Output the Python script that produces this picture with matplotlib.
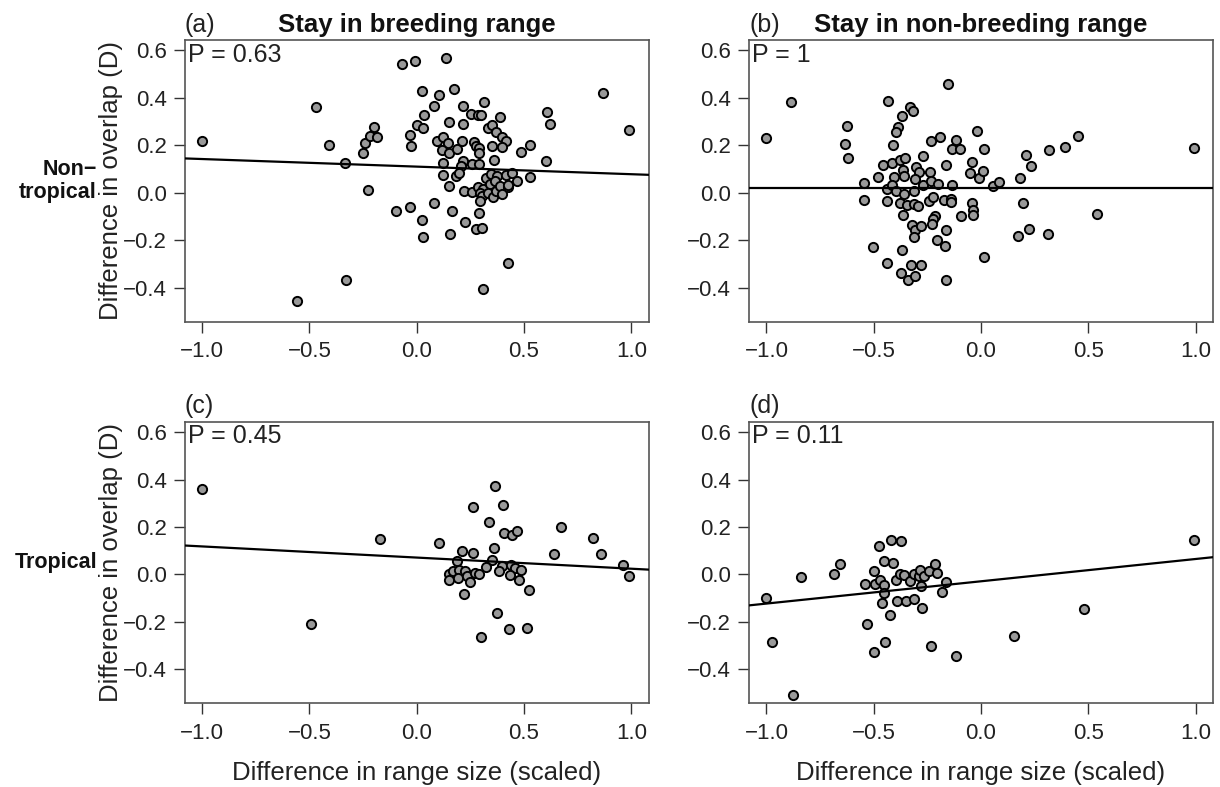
import numpy as np
import matplotlib.pyplot as plt

plt.rcParams['font.family'] = ['Liberation Sans', 'DejaVu Sans']

# panel (a): non-tropical, stay in breeding range
a_x = [-1.0, -0.471, -0.409, -0.333, -0.331, -0.558, -0.227, -0.250, -0.240, -0.216,
       -0.199, -0.185, -0.070, -0.006, 0.138, 0.026, 0.103, 0.173, 0.036, 0.079,
       0.002, 0.031, -0.030, -0.026, 0.151, 0.216, 0.252, 0.286, 0.300, 0.313,
       0.216, 0.390, 0.334, 0.351, 0.369, 0.398, 0.418, 0.350, 0.397, 0.096,
       0.123, 0.146, 0.117, 0.148, 0.188, 0.210, 0.269, 0.278, 0.291, 0.291,
       0.484, 0.530, 0.605, 0.621, 0.602, 0.870, 0.991, 0.123, 0.216, 0.205,
       0.257, 0.292, 0.361, 0.120, 0.182, 0.198, 0.148, 0.221, 0.257, 0.285,
       0.310, 0.294, 0.302, 0.294, 0.325, 0.348, 0.372, 0.341, 0.366, 0.334,
       0.356, 0.369, 0.387, 0.426, 0.397, 0.418, 0.442, 0.426, 0.465, 0.530,
       0.079, -0.030, -0.095, 0.025, 0.028, 0.162, 0.154, 0.227, 0.289, 0.278,
       0.302, 0.426, 0.310]
a_y = [0.216, 0.363, 0.203, 0.125, -0.368, -0.456, 0.013, 0.169, 0.211, 0.239,
       0.278, 0.236, 0.543, 0.557, 0.568, 0.429, 0.413, 0.437, 0.326, 0.364,
       0.287, 0.271, 0.242, 0.197, 0.300, 0.364, 0.332, 0.329, 0.329, 0.381,
       0.288, 0.318, 0.273, 0.286, 0.257, 0.236, 0.217, 0.197, 0.194, 0.219,
       0.236, 0.211, 0.181, 0.169, 0.183, 0.217, 0.214, 0.198, 0.190, 0.166,
       0.172, 0.203, 0.339, 0.290, 0.134, 0.419, 0.266, 0.125, 0.135, 0.113,
       0.121, 0.121, 0.138, 0.075, 0.070, 0.083, 0.027, 0.007, 0.003, 0.023,
       0.015, -0.003, -0.015, -0.037, 0.060, 0.079, 0.072, 0.037, 0.051, -0.003,
       -0.017, 0.008, 0.027, 0.023, -0.006, 0.076, 0.082, 0.034, 0.051, 0.065,
       -0.042, -0.062, -0.079, -0.113, -0.186, -0.076, -0.174, -0.122, -0.087, -0.152,
       -0.149, -0.298, -0.404]

# panel (b): non-tropical, stay in non-breeding range
b_x = [-1.0, -0.884, -0.623, -0.635, -0.621, -0.433, -0.331, -0.318, -0.367, -0.385,
       -0.396, -0.409, -0.155, -0.019, -0.235, -0.190, -0.115, -0.134, -0.098, 0.014,
       0.454, 0.393, 0.318, 0.211, 0.233, 0.991, -0.269, -0.457, -0.413, -0.376,
       -0.354, -0.365, -0.360, -0.405, -0.480, -0.544, -0.547, -0.438, -0.413, -0.398,
       -0.438, -0.379, -0.360, -0.365, -0.346, -0.314, -0.311, -0.294, -0.301, -0.287,
       -0.306, -0.270, -0.239, -0.233, -0.200, -0.241, -0.224, -0.174, -0.165, -0.137,
       -0.138, -0.141, -0.053, -0.040, -0.009, 0.009, 0.054, 0.082, 0.183, 0.194,
       -0.043, -0.039, -0.037, -0.095, -0.214, -0.224, -0.230, -0.322, -0.308, -0.280,
       -0.311, -0.162, -0.205, -0.168, -0.502, -0.370, -0.440, -0.328, -0.280, -0.371,
       -0.341, -0.309, -0.162, 0.014, 0.171, 0.224, 0.314, 0.541]
b_y = [0.231, 0.383, 0.280, 0.207, 0.145, 0.387, 0.363, 0.346, 0.323, 0.278,
       0.255, 0.201, 0.459, 0.262, 0.219, 0.233, 0.222, 0.184, 0.184, 0.184,
       0.241, 0.191, 0.180, 0.160, 0.111, 0.188, 0.156, 0.118, 0.124, 0.138,
       0.145, 0.096, 0.072, 0.065, 0.065, 0.039, -0.031, 0.015, 0.034, 0.008,
       -0.037, -0.045, -0.006, -0.093, -0.053, 0.006, -0.048, -0.055, 0.107, 0.086,
       0.058, 0.034, 0.086, 0.048, 0.037, -0.037, -0.020, -0.031, 0.115, 0.034,
       -0.027, -0.041, 0.084, 0.128, 0.062, 0.093, 0.030, 0.044, 0.062, -0.044,
       -0.045, -0.072, -0.094, -0.097, -0.098, -0.111, -0.132, -0.136, -0.156, -0.141,
       -0.188, -0.158, -0.198, -0.226, -0.231, -0.241, -0.295, -0.304, -0.304, -0.339,
       -0.368, -0.353, -0.370, -0.270, -0.181, -0.152, -0.174, -0.091]

# panel (c): tropical, stay in breeding range
c_x = [-1.0, -0.491, -0.173, 0.103, 0.364, 0.403, 0.260, 0.336, 0.407, 0.445,
       0.465, 0.362, 0.213, 0.263, 0.188, 0.351, 0.325, 0.398, 0.439, 0.457,
       0.488, 0.381, 0.434, 0.478, 0.148, 0.170, 0.151, 0.199, 0.190, 0.224,
       0.235, 0.250, 0.271, 0.291, 0.219, 0.523, 0.372, 0.428, 0.515, 0.299,
       0.670, 0.641, 0.823, 0.859, 0.960, 0.991]
c_y = [0.359, -0.211, 0.148, 0.134, 0.374, 0.293, 0.286, 0.221, 0.175, 0.168,
       0.185, 0.112, 0.098, 0.090, 0.056, 0.062, 0.031, 0.036, 0.041, 0.025,
       0.020, 0.015, -0.004, -0.022, 0.003, 0.013, -0.025, 0.020, -0.015, 0.013,
       -0.008, -0.034, 0.006, 0.003, -0.081, -0.067, -0.162, -0.230, -0.224, -0.266,
       0.202, 0.087, 0.154, 0.086, 0.038, -0.005]

# panel (d): tropical, stay in non-breeding range
d_x = [-1.0, -0.975, -0.876, -0.840, -0.683, -0.659, -0.541, -0.531, -0.497, -0.500,
       -0.494, -0.477, -0.421, -0.374, -0.454, -0.410, -0.472, -0.450, -0.454, -0.460,
       -0.426, -0.447, -0.395, -0.379, -0.360, -0.332, -0.391, -0.351, -0.314, -0.275,
       -0.314, -0.289, -0.283, -0.264, -0.278, -0.242, -0.216, -0.205, -0.163, -0.183,
       -0.231, -0.118, 0.155, 0.478, 0.991]
d_y = [-0.098, -0.284, -0.510, -0.010, 0.000, 0.042, -0.041, -0.210, -0.326, 0.014,
       -0.039, 0.120, 0.143, 0.139, 0.056, 0.050, -0.022, -0.046, -0.078, -0.122,
       -0.171, -0.284, -0.022, 0.000, -0.001, -0.028, -0.113, -0.113, -0.102, -0.143,
       0.003, -0.008, 0.017, -0.008, -0.048, 0.014, 0.045, 0.008, -0.031, -0.076,
       -0.303, -0.342, -0.261, -0.146, 0.147]

# fitted lines (intercept, slope) and P values
intercepts = [0.110, 0.020, 0.071, -0.029]
slopes = [-0.032, 0.0, -0.047, 0.094]
p_labels = ['P = 0.63', 'P = 1', 'P = 0.45', 'P = 0.11']
letters = ['(a)', '(b)', '(c)', '(d)']
col_titles = ['Stay in breeding range', 'Stay in non-breeding range']
row_labels = ['Non\u2212\ntropical', 'Tropical']

xs = [a_x, b_x, c_x, d_x]
ys = [a_y, b_y, c_y, d_y]

fig = plt.figure(figsize=(12.2, 7.87), dpi=100)
W, H = 1220, 787
lefts = [185, 749.3]
tops = [40, 421.7]
aw, ah = 463.5, 281.7

xlim = (-1.08, 1.08)
ylim = (-0.544, 0.644)

for i in range(4):
    r, c = divmod(i, 2)
    ax = fig.add_axes([lefts[c] / W, 1 - (tops[r] + ah) / H, aw / W, ah / H])
    ax.scatter(xs[i], ys[i], s=44, facecolor='#999999', edgecolor='black',
               linewidth=1.4, zorder=2)
    xx = np.array(xlim)
    ax.plot(xx, intercepts[i] + slopes[i] * xx, color='black', lw=1.6, zorder=3)
    ax.set_xlim(*xlim)
    ax.set_ylim(*ylim)
    ax.set_xticks([-1.0, -0.5, 0.0, 0.5, 1.0])
    ax.set_yticks([-0.4, -0.2, 0.0, 0.2, 0.4, 0.6])
    ax.xaxis.set_major_formatter(lambda v, pos: f'{v:.1f}'.replace('-', '\u2212'))
    ax.yaxis.set_major_formatter(lambda v, pos: f'{v:.1f}'.replace('-', '\u2212'))
    ax.tick_params(labelsize=16, length=8, width=1, color='#333333',
                   colors='#222222')
    ax.tick_params(axis='x', pad=6)
    ax.tick_params(axis='y', pad=5)
    for sp in ax.spines.values():
        sp.set_color('#555555')
        sp.set_linewidth(1.2)

    ax.annotate(p_labels[i], xy=(0, 1), xycoords='axes fraction',
                xytext=(2, -2), textcoords='offset points',
                ha='left', va='top', fontsize=18, color='#222222')
    ax.annotate(letters[i], xy=(0, 1), xycoords='axes fraction',
                xytext=(0, 6), textcoords='offset points',
                ha='left', va='baseline', fontsize=18, color='#222222')
    if r == 0:
        ax.annotate(col_titles[c], xy=(0.5, 1), xycoords='axes fraction',
                    xytext=(0, 6), textcoords='offset points',
                    ha='center', va='baseline', fontsize=18.5,
                    fontweight='bold', color='#111111')
    if c == 0:
        ax.text(-0.1586, 0.5, 'Difference in overlap (D)', transform=ax.transAxes,
                rotation=90, ha='center', va='center', fontsize=18.5,
                color='#222222')
        ax.text((97 - 185) / aw, 0.5, row_labels[r], transform=ax.transAxes,
                ha='right', va='center', multialignment='right',
                fontsize=15.5, fontweight='bold', color='#111111',
                linespacing=1.15)
    if r == 1:
        ax.set_xlabel('Difference in range size (scaled)', fontsize=18.5,
                      color='#222222', labelpad=12)

fig.savefig('out.png', dpi=100)
